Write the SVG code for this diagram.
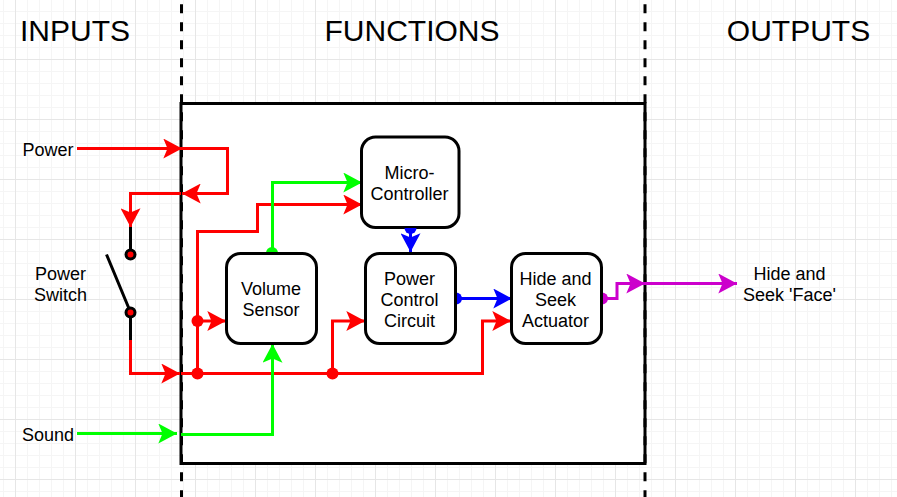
<svg xmlns="http://www.w3.org/2000/svg" width="897" height="497" viewBox="0 0 897 497">
<defs>
<pattern id="minor" width="12" height="12" patternUnits="userSpaceOnUse" x="3" y="11"><path d="M0 0.5H12M0.5 0V12" fill="none" stroke="#f5f5f5" stroke-width="1"/></pattern>
<pattern id="major" width="60" height="60" patternUnits="userSpaceOnUse" x="15" y="59"><path d="M0 0.5H60M0.5 0V60" fill="none" stroke="#e6e6e6" stroke-width="1"/></pattern>
<marker id="ar" viewBox="0 0 20 20" refX="18.700" refY="10" markerWidth="20" markerHeight="20" markerUnits="userSpaceOnUse" orient="auto"><path d="M0 0L18.700 10L0 20L4.200 10Z" fill="#f00"/></marker>
<marker id="ag" viewBox="0 0 20 20" refX="18.700" refY="10" markerWidth="20" markerHeight="20" markerUnits="userSpaceOnUse" orient="auto"><path d="M0 0L18.700 10L0 20L4.200 10Z" fill="#0f0"/></marker>
<marker id="ab" viewBox="0 0 20 20" refX="18.700" refY="10" markerWidth="20" markerHeight="20" markerUnits="userSpaceOnUse" orient="auto"><path d="M0 0L18.700 10L0 20L4.200 10Z" fill="#00f"/></marker>
<marker id="am" viewBox="0 0 20 20" refX="18.700" refY="10" markerWidth="20" markerHeight="20" markerUnits="userSpaceOnUse" orient="auto"><path d="M0 0L18.700 10L0 20L4.200 10Z" fill="#c0c"/></marker>
</defs>
<style>
text{font-family:"Liberation Sans",Arial,sans-serif;font-size:18px;fill:#000;text-anchor:middle}
.h{font-size:30px}
.n{fill:#fff;stroke:#000;stroke-width:3}
.c{fill:none;stroke-width:3}
.r{stroke:#f00}.g{stroke:#0f0}.b{stroke:#00f}.m{stroke:#c0c}
</style>
<rect width="897" height="497" fill="#fff"/>
<rect width="897" height="497" fill="url(#minor)"/>
<rect width="897" height="497" fill="url(#major)"/>
<g id="frame">
<rect x="181" y="103.500" width="464" height="360" fill="#fff" stroke="#000" stroke-width="3"/>
<path d="M181.500 4.300V497M645 4.300V497" fill="none" stroke="#000" stroke-width="3" stroke-dasharray="9 9"/>
</g>
<g id="headings">
<text class="h" x="75" y="41">INPUTS</text>
<text class="h" x="412" y="41">FUNCTIONS</text>
<text class="h" x="798.500" y="41">OUTPUTS</text>
</g>
<g id="labels">
<text x="48" y="156">Power</text>
<text x="48" y="441">Sound</text>
<text x="60.500" y="280">Power</text>
<text x="60.500" y="301">Switch</text>
<text x="789.500" y="280">Hide and</text>
<text x="789.500" y="301">Seek 'Face'</text>
</g>
<g id="switch" fill="none" stroke="#000" stroke-width="3">
<path d="M130.500 227V254M106.500 254.500L130 311M130.500 312V340"/>
<circle cx="130.500" cy="254.500" r="4.500" fill="#f00"/>
<circle cx="130.500" cy="312.500" r="4.500" fill="#f00"/>
</g>
<g id="connectors">
<path class="c r" d="M77 148.500H182" marker-end="url(#ar)"/>
<path class="c r" d="M181 148.500H227.500V193.500H182" marker-end="url(#ar)"/>
<path class="c r" d="M181 193.500H130.500V227" marker-end="url(#ar)"/>
<path class="c r" d="M130.500 340V373.500H180" marker-end="url(#ar)"/>
<path class="c r" d="M181 373.500H482.500V321H511" marker-end="url(#ar)"/>
<path class="c r" d="M332.500 373.500V321H365" marker-end="url(#ar)"/>
<path class="c r" d="M197.500 373.500V231.500H257.500V204.500H362" marker-end="url(#ar)"/>
<path class="c r" d="M197.500 321H226" marker-end="url(#ar)"/>
<path class="c g" d="M77 433.500H177" marker-end="url(#ag)"/>
<path class="c g" d="M181 434.500H272.500V344" marker-end="url(#ag)"/>
<path class="c g" d="M272.500 252V182.500H362" marker-end="url(#ag)"/>
<path class="c b" d="M410.500 228V252" marker-end="url(#ab)"/>
<path class="c b" d="M456 298.500H512" marker-end="url(#ab)"/>
<path class="c m" d="M603 298.500H617V283.500H645" marker-end="url(#am)"/>
<path class="c m" d="M645 283.500H737" marker-end="url(#am)"/>
<circle cx="197.500" cy="373.500" r="6" fill="#f00"/>
<circle cx="197.500" cy="321" r="6" fill="#f00"/>
<circle cx="332.500" cy="373.500" r="6" fill="#f00"/>
</g>
<g id="volume-sensor">
<path d="M266 253A6 6 0 0 1 278 253Z" fill="#0f0"/>
<rect class="n" x="226.500" y="253.500" width="90" height="90" rx="14"/>
<text x="271" y="295">Volume</text><text x="271" y="316">Sensor</text>
</g>
<g id="micro-controller">
<rect class="n" x="361.500" y="137" width="97.500" height="90.500" rx="14"/>
<text x="409.500" y="179">Micro-</text><text x="409.500" y="200">Controller</text>
</g>
<g id="power-control-circuit">
<path d="M404.500 228A6 6 0 0 0 416.500 228Z" fill="#00f"/>
<path d="M456 292.500A6 6 0 0 1 456 304.500Z" fill="#00f"/>
<rect class="n" x="365.500" y="253.500" width="90" height="90" rx="14"/>
<text x="409.500" y="285">Power</text><text x="409.500" y="306">Control</text><text x="409.500" y="327">Circuit</text>
</g>
<g id="actuator">
<path d="M602 292.500A6 6 0 0 1 602 304.500Z" fill="#c0c"/>
<rect class="n" x="511.500" y="253.500" width="90" height="90" rx="14"/>
<text x="555.500" y="285">Hide and</text><text x="555.500" y="306">Seek</text><text x="555.500" y="327">Actuator</text>
</g>
</svg>
